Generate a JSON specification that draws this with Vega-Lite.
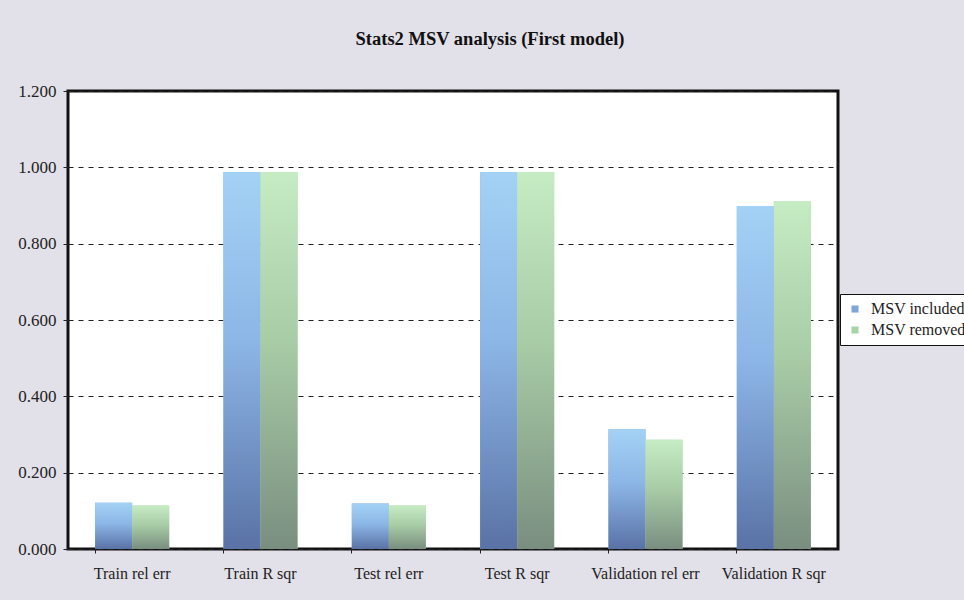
{
  "$schema": "https://vega.github.io/schema/vega-lite/v6.json",
  "autosize": "none",
  "width": 770,
  "height": 458,
  "padding": {"left": 68, "top": 91, "right": 126, "bottom": 51},
  "background": "#e2e0e8",
  "title": {
    "text": "Stats2 MSV analysis (First model)",
    "font": "Liberation Serif",
    "fontSize": 18.5,
    "fontWeight": "bold",
    "color": "#111111",
    "offset": 34,
    "dx": 37
  },
  "config": {
    "view": {"fill": "white", "stroke": "#111111", "strokeWidth": 3},
    "axis": {"labelFont": "Liberation Serif", "labelFontSize": 16, "labelColor": "#222222", "titleFont": "Liberation Serif"},
    "legend": {"labelFont": "Liberation Serif", "labelFontSize": 16, "labelColor": "#222222"}
  },
  "data": {
    "values": [
      {"metric": "Train rel err", "series": "MSV included", "value": 0.121},
      {"metric": "Train rel err", "series": "MSV removed", "value": 0.114},
      {"metric": "Train R sqr", "series": "MSV included", "value": 0.988},
      {"metric": "Train R sqr", "series": "MSV removed", "value": 0.988},
      {"metric": "Test rel err", "series": "MSV included", "value": 0.119},
      {"metric": "Test rel err", "series": "MSV removed", "value": 0.114},
      {"metric": "Test R sqr", "series": "MSV included", "value": 0.988},
      {"metric": "Test R sqr", "series": "MSV removed", "value": 0.988},
      {"metric": "Validation rel err", "series": "MSV included", "value": 0.314},
      {"metric": "Validation rel err", "series": "MSV removed", "value": 0.286},
      {"metric": "Validation R sqr", "series": "MSV included", "value": 0.899},
      {"metric": "Validation R sqr", "series": "MSV removed", "value": 0.912}
    ]
  },
  "encoding": {
    "x": {
      "field": "metric",
      "type": "nominal",
      "sort": null,
      "title": null,
      "scale": {"paddingInner": 0.423, "paddingOuter": 0.2115},
      "axis": {"labelAngle": 0, "domain": false, "ticks": true, "tickColor": "#222222", "tickSize": 4, "bandPosition": 0, "labelPadding": 12, "grid": false}
    },
    "xOffset": {"field": "series", "type": "nominal", "scale": {"paddingInner": 0, "paddingOuter": 0}},
    "y": {
      "field": "value",
      "type": "quantitative",
      "title": null,
      "scale": {"domain": [0, 1.2], "nice": false},
      "axis": {"values": [0, 0.2, 0.4, 0.6, 0.8, 1.0, 1.2], "format": ".3f", "domain": false, "tickColor": "#222222", "tickSize": 5, "labelPadding": 7, "labelFontSize": 17, "grid": true, "gridColor": "#222222", "gridDash": [5, 5], "gridWidth": 1}
    }
  },
  "layer": [
    {
      "mark": {"type": "bar"},
      "encoding": {
        "color": {
          "field": "series",
          "type": "nominal",
          "scale": {"domain": ["MSV included", "MSV removed"], "range": ["#7fa6d8", "#a8d4a8"]},
          "legend": {
            "title": null,
            "orient": "none",
            "legendX": 772,
            "legendY": 203,
            "fillColor": "white",
            "strokeColor": "#111111",
            "padding": 7,
            "symbolType": "square",
            "symbolSize": 50,
            "rowPadding": 5,
            "labelOffset": 8
          }
        }
      }
    },
    {
      "mark": {"type": "bar"},
      "encoding": {
        "color": {
          "condition": {
            "test": "datum.series === 'MSV included'",
            "value": {
              "gradient": "linear", "x1": 0, "y1": 0, "x2": 0, "y2": 1,
              "stops": [
                {"offset": 0, "color": "#a3d2f5"},
                {"offset": 0.45, "color": "#8cb6e6"},
                {"offset": 1, "color": "#5a72a6"}
              ]
            }
          },
          "value": {
            "gradient": "linear", "x1": 0, "y1": 0, "x2": 0, "y2": 1,
            "stops": [
              {"offset": 0, "color": "#c6ecc4"},
              {"offset": 0.45, "color": "#a8cca6"},
              {"offset": 1, "color": "#7a8e80"}
            ]
          }
        }
      }
    }
  ]
}
